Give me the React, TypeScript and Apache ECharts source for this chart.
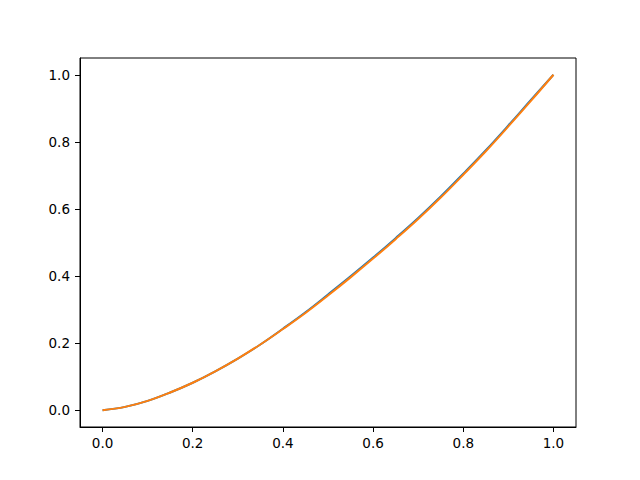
import React, { useEffect, useRef } from "react";
import * as echarts from "echarts";

// x positions sampled along the curve
const xValues = [
  0, 0.05, 0.1, 0.15, 0.2, 0.25, 0.3, 0.35, 0.4, 0.45, 0.5, 0.55, 0.6, 0.65,
  0.7, 0.75, 0.8, 0.85, 0.9, 0.95, 1.0,
];

// blue line (drawn first, mostly hidden under the orange one)
const blueValues = [
  0, 0.01, 0.028, 0.053, 0.082, 0.116, 0.154, 0.196, 0.243, 0.292, 0.345,
  0.399, 0.455, 0.513, 0.573, 0.637, 0.705, 0.775, 0.849, 0.925, 1.0,
];

// orange line
const orangeValues = [
  0, 0.01, 0.028, 0.053, 0.082, 0.116, 0.154, 0.196, 0.242, 0.29, 0.342,
  0.396, 0.452, 0.51, 0.57, 0.634, 0.702, 0.772, 0.846, 0.922, 1.0,
];

const tickValues = [0, 0.2, 0.4, 0.6, 0.8, 1.0];

const FONT = "DejaVu Sans";

const App: React.FC = () => {
  const chartRef = useRef<HTMLDivElement>(null);

  useEffect(() => {
    if (!chartRef.current) return;
    const chart = echarts.init(chartRef.current, null, { renderer: "svg" });

    const axisCommon = {
      type: "value" as const,
      min: -0.05,
      max: 1.05,
      splitLine: { show: false },
      axisLine: { show: true, onZero: false, lineStyle: { color: "#000", width: 1 } },
      axisTick: {
        show: true,
        inside: false,
        length: 5,
        customValues: tickValues,
        lineStyle: { color: "#000", width: 1 },
      },
      axisLabel: {
        customValues: tickValues,
        color: "#000",
        fontFamily: FONT,
        fontSize: 13.5,
        formatter: (v: number) => v.toFixed(1),
      },
    };

    chart.setOption({
      animation: false,
      backgroundColor: "#fff",
      grid: {
        left: 80,
        right: 64,
        top: 58,
        bottom: 53,
        show: true,
        borderColor: "#000",
        borderWidth: 1,
        backgroundColor: "transparent",
        containLabel: false,
        outerBoundsMode: "none",
      },
      xAxis: {
        ...axisCommon,
        axisLabel: { ...axisCommon.axisLabel, margin: 9 },
      },
      yAxis: {
        ...axisCommon,
        axisLabel: { ...axisCommon.axisLabel, margin: 10 },
      },
      series: [
        {
          type: "line",
          data: xValues.map((x, i) => [x, blueValues[i]]),
          showSymbol: false,
          smooth: 0.4,
          lineStyle: { color: "#1f77b4", width: 2 },
        },
        {
          type: "line",
          data: xValues.map((x, i) => [x, orangeValues[i]]),
          showSymbol: false,
          smooth: 0.4,
          lineStyle: { color: "#ff7f0e", width: 2 },
        },
      ],
    });

    return () => {
      chart.dispose();
    };
  }, []);

  return (
    <div
      ref={chartRef}
      style={{ position: "fixed", left: 0, top: 0, width: 640, height: 480 }}
    />
  );
};

export default App;
